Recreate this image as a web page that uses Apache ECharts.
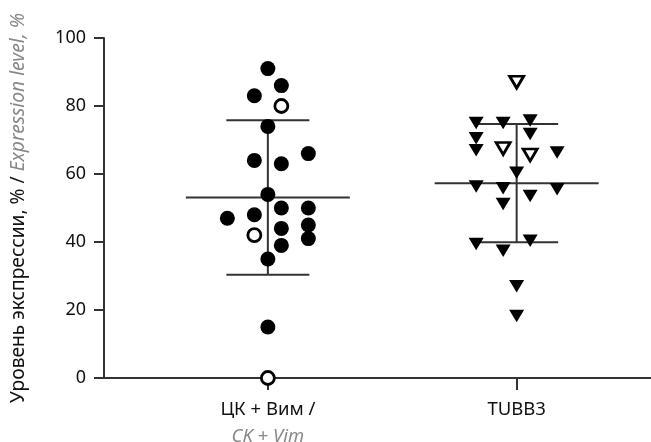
<!DOCTYPE html>
<html>
<head>
<meta charset="utf-8">
<script src="https://cdn.jsdelivr.net/npm/echarts@6/dist/echarts.min.js"></script>
<style>html,body{margin:0;padding:0;background:#fff}#c{width:651px;height:442px}</style>
</head>
<body>
<div id="c"></div>
<script>
// Groups and their x positions (value axis units)
var groupNames = ['ЦК + Вим /', 'TUBB3'];
var groupNamesEn = ['CK + Vim', ''];
var groupPos = [1, 2];
var yTicks = [0, 20, 40, 60, 80, 100];

// Points: [jitter column, value]
var ckFilled = [[0,91],[0.5,86],[-0.5,83],[0,74],[-0.5,64],[0.5,63],[1.5,66],[0,54],[-1.5,47],[-0.5,48],[0.5,50],[1.5,50],[0.5,44],[1.5,45],[1.5,41],[0.5,39],[0,35],[0,15]];
var ckOpen = [[0.5,80],[-0.5,42],[0,0]];
var tubFilled = [[-1.5,75],[-0.5,75],[0.5,75.7],[0.5,71.8],[-1.5,70.5],[-1.5,67],[1.5,66.3],[0,60.4],[-1.5,56.3],[-0.5,55.8],[1.5,55.5],[-0.5,51.2],[0.5,53.5],[-1.5,39.4],[-0.5,37.4],[0.5,40.4],[0,27],[0,18.2]];
var tubOpen = [[0,87],[-0.5,67.5],[0.5,65.6]];

// Mean and SD per group
var means = [53.1, 57.3];
var sds = [22.7, 17.4];

var JIT = 0.1085;
function place(arr, g) { return arr.map(function (p) { return [groupPos[g] + p[0] * JIT, p[1]]; }); }

var errData = groupPos.map(function (x, i) { return [x, means[i], sds[i]]; });

var chart = echarts.init(document.getElementById('c'), null, {renderer: 'canvas'});
var FONT = 'Noto Sans';
chart.setOption({
  animation: false,
  grid: {left: 104, right: 0, top: 38, bottom: 64, containLabel: false, outerBoundsMode: 'none'},
  xAxis: {
    type: 'value', min: 0.3414, max: 2.54,
    axisLine: {show: true, onZero: false, lineStyle: {color: '#333', width: 2}},
    splitLine: {show: false},
    axisTick: {show: true, customValues: groupPos, length: 12, lineStyle: {color: '#333', width: 2}},
    axisLabel: {
      customValues: groupPos, margin: 18,
      fontFamily: FONT, fontSize: 18.5, color: '#111',
      formatter: function (v) {
        var i = groupPos.indexOf(v);
        if (i < 0) return '';
        return groupNamesEn[i] ? '{a|' + groupNames[i] + '}\n{b|' + groupNamesEn[i] + '}' : '{a|' + groupNames[i] + '}';
      },
      rich: {
        a: {fontFamily: FONT, fontSize: 18.5, color: '#111', lineHeight: 27},
        b: {fontFamily: FONT, fontSize: 18.5, color: '#888', fontStyle: 'italic', lineHeight: 27}
      }
    }
  },
  yAxis: {
    type: 'value', min: 0, max: 100, interval: 20,
    axisLine: {show: true, lineStyle: {color: '#333', width: 2}},
    axisTick: {show: true, length: 10, lineStyle: {color: '#333', width: 2}},
    splitLine: {show: false},
    axisLabel: {fontFamily: FONT, fontSize: 18, color: '#111', margin: 18},
    name: '{a|Уровень экспрессии, % / }{b|Expression level, %}',
    nameLocation: 'middle', nameRotate: 90, nameGap: 76,
    nameTextStyle: {
      fontFamily: FONT, fontSize: 19.2, color: '#111',
      rich: {
        a: {fontFamily: FONT, fontSize: 19.2, color: '#111'},
        b: {fontFamily: FONT, fontSize: 19.2, color: '#888', fontStyle: 'italic'}
      }
    }
  },
  series: [
    {
      type: 'custom', data: errData, z: 1,
      renderItem: function (params, api) {
        var x = api.value(0), m = api.value(1), s = api.value(2);
        var c = api.coord([x, m]);
        var cu = api.coord([x, m + s]);
        var cl = api.coord([x, m - s]);
        var mw = 82, cw = 41.5;
        var st = {stroke: '#333', lineWidth: 2};
        return {type: 'group', children: [
          {type: 'line', shape: {x1: c[0] - mw, y1: c[1], x2: c[0] + mw, y2: c[1]}, style: st},
          {type: 'line', shape: {x1: cu[0] - cw, y1: cu[1], x2: cu[0] + cw, y2: cu[1]}, style: st},
          {type: 'line', shape: {x1: cl[0] - cw, y1: cl[1], x2: cl[0] + cw, y2: cl[1]}, style: st},
          {type: 'line', shape: {x1: cu[0], y1: cu[1], x2: cl[0], y2: cl[1]}, style: st}
        ]};
      }
    },
    {type: 'scatter', data: place(ckFilled, 0), symbol: 'circle', symbolSize: 15, itemStyle: {color: '#000', opacity: 1}, z: 3},
    {type: 'scatter', data: place(ckOpen, 0), symbol: 'circle', symbolSize: 13, itemStyle: {color: '#fff', borderColor: '#000', borderWidth: 2.8, opacity: 1}, z: 4},
    {type: 'scatter', data: place(tubFilled, 1), symbol: 'triangle', symbolRotate: 180, symbolSize: [15, 12.5], itemStyle: {color: '#000', opacity: 1}, z: 3},
    {type: 'scatter', data: place(tubOpen, 1), symbol: 'triangle', symbolRotate: 180, symbolSize: [14, 12], itemStyle: {color: '#fff', borderColor: '#000', borderWidth: 2.8, opacity: 1}, z: 4}
  ]
});
</script>
</body>
</html>
